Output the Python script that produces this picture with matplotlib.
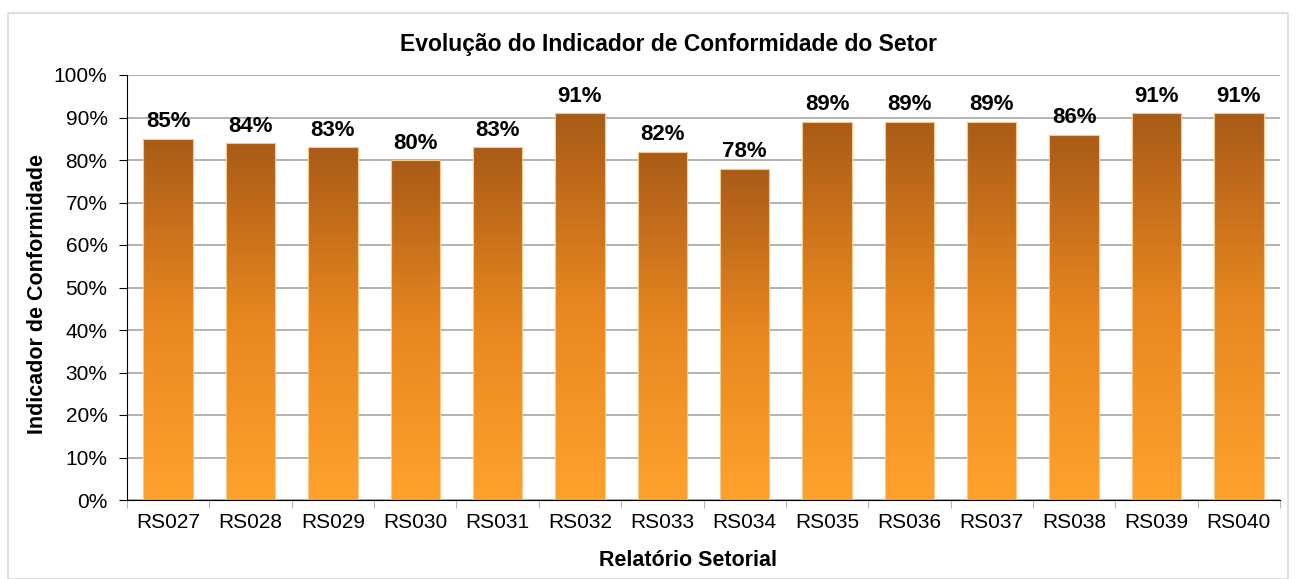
import numpy as np
import matplotlib.pyplot as plt
from matplotlib.colors import LinearSegmentedColormap
from matplotlib.patches import Rectangle

plt.rcParams['font.family'] = ['Liberation Sans', 'DejaVu Sans']

# dados
relatorios = ['RS027', 'RS028', 'RS029', 'RS030', 'RS031', 'RS032', 'RS033',
              'RS034', 'RS035', 'RS036', 'RS037', 'RS038', 'RS039', 'RS040']
conformidade = [0.85, 0.84, 0.83, 0.80, 0.83, 0.91, 0.82,
                0.78, 0.89, 0.89, 0.89, 0.86, 0.91, 0.91]

W, H = 1296, 579
fig = plt.figure(figsize=(W / 100, H / 100), dpi=100)
ax = fig.add_axes([127 / W, 79 / H, 1153 / W, 425 / H])

# moldura externa
fig.patches.append(Rectangle((8 / W, 0), 1280 / W, 566 / H, transform=fig.transFigure,
                             fill=False, edgecolor='#d9d9d9', lw=1.2))

x = np.arange(len(relatorios))
bars = ax.bar(x, conformidade, width=0.6, color='none', edgecolor='#f5c98a', lw=0.8, zorder=3)

# gradiente em cada barra (escuro no topo, claro embaixo)
cmap = LinearSegmentedColormap.from_list('laranja', ['#ffa22c', '#e8871f', '#a95b17'])
grad = np.linspace(0, 1, 256).reshape(-1, 1)
for b in bars:
    x0, h, w = b.get_x(), b.get_height(), b.get_width()
    im = ax.imshow(grad, cmap=cmap, origin='lower', aspect='auto',
                   extent=[x0, x0 + w, 0, h], zorder=2)
    im.set_clip_path(b)

for xi, v in zip(x, conformidade):
    ax.text(xi, v + 0.015, f'{v:.0%}', ha='center', va='bottom',
            fontsize=16, fontweight='bold', color='black')

ax.set_xlim(-0.5, len(relatorios) - 0.5)
ax.set_ylim(0, 1)
ax.set_yticks(np.arange(0, 1.01, 0.1))
ax.set_yticklabels([f'{int(round(t*100))}%' for t in np.arange(0, 1.01, 0.1)], fontsize=15)
ax.set_xticks(x)
ax.set_xticklabels(relatorios, fontsize=15)
ax.set_xticks(np.arange(-0.5, len(relatorios), 1), minor=True)
ax.tick_params(axis='x', which='major', length=0, pad=9)
ax.tick_params(axis='x', which='minor', length=6, color='#a6a6a6')
ax.tick_params(axis='y', length=6, color='black', pad=8)

ax.grid(axis='y', color='#a6a6a6', lw=1.2, zorder=0)
ax.set_axisbelow(True)
for s in ['top', 'right']:
    ax.spines[s].set_visible(False)
ax.spines['left'].set_color('black')
ax.spines['bottom'].set_color('black')

fig.text(669 / W, 1 - 44 / H, 'Evolução do Indicador de Conformidade do Setor',
         ha='center', va='center', fontsize=16.5, fontweight='bold')
fig.text(688 / W, 1 - 560 / H, 'Relatório Setorial',
         ha='center', va='center', fontsize=15.5, fontweight='bold')
fig.text(38 / W, 1 - 294 / H, 'Indicador de Conformidade', rotation=90,
         ha='center', va='center', fontsize=15.5, fontweight='bold')

fig.savefig('out.png', dpi=100, facecolor='white')
